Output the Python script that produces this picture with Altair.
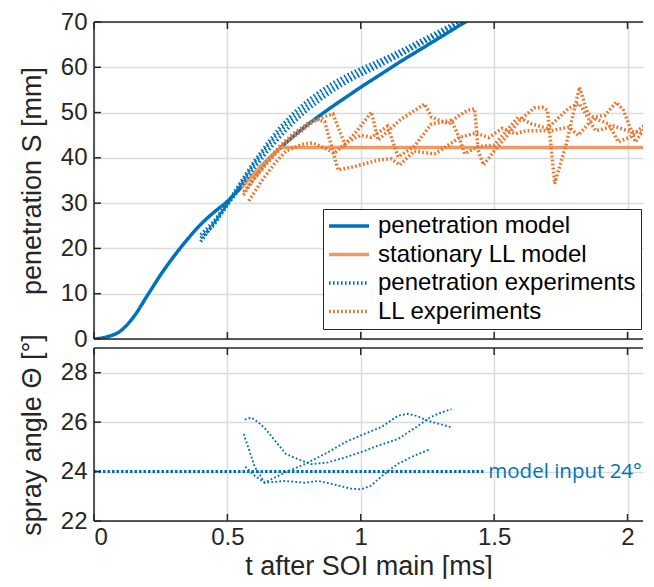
import altair as alt
import pandas as pd

# ---------------- data ----------------
series_names = ["penetration model", "stationary LL model",
                "penetration experiments", "LL experiments"]

model_t = [0, 0.05, 0.1, 0.15, 0.2, 0.25, 0.3, 0.35, 0.4, 0.45, 0.5, 0.55, 0.6,
           0.65, 0.7, 0.75, 0.8, 0.85, 0.9, 0.95, 1.0, 1.05, 1.1, 1.15, 1.2,
           1.25, 1.3, 1.35, 1.4]
model_S = [0, 0.5, 1.8, 5.0, 9.6, 14.2, 18.3, 22.0, 25.3, 28.0, 30.4, 33.4, 36.5,
           39.5, 42.3, 44.9, 47.3, 49.5, 51.6, 53.6, 55.6, 57.5, 59.4, 61.3, 63.1,
           64.9, 66.7, 68.5, 70.3]

llmodel_t = [0.55, 0.6, 0.65, 0.7, 2.1]
llmodel_S = [33.4, 36.5, 39.5, 42.3, 42.3]

pen_exp_t = [0.40, 0.45, 0.50, 0.55, 0.60, 0.65, 0.70, 0.75, 0.80, 0.85, 0.90,
             0.95, 1.00, 1.05, 1.10, 1.15, 1.20, 1.25, 1.30, 1.35, 1.40]
pen_exp_1 = [21.5, 25.6, 29.8, 34.2, 38.6, 42.5, 46.0, 49.0, 51.6, 53.8, 55.7,
             57.4, 58.9, 60.3, 61.7, 63.1, 64.6, 66.1, 67.7, 69.3, 71.0]
pen_exp_2 = [23.0, 26.0, 30.0, 34.6, 39.2, 43.2, 46.9, 50.0, 52.6, 54.8, 56.7,
             58.3, 59.7, 61.0, 62.3, 63.7, 65.2, 66.7, 68.2, 69.7, 71.2]
pen_exp_3 = [22.3, 25.2, 29.6, 33.6, 37.7, 41.4, 44.8, 47.9, 50.6, 52.9, 55.0,
             56.8, 58.3, 59.7, 61.2, 62.7, 64.3, 65.9, 67.5, 69.1, 70.8]

ll_a_t = [0.56, 0.60, 0.65, 0.70, 0.75, 0.80, 0.86, 0.896, 0.94, 0.98, 1.04, 1.065,
          1.12, 1.15, 1.24, 1.265, 1.33, 1.36, 1.40, 1.427, 1.44, 1.46, 1.50, 1.55,
          1.60, 1.65, 1.68, 1.70, 1.727, 1.77, 1.82, 1.85, 1.88, 1.93, 1.965, 2.01,
          2.06, 2.1]
ll_a_S = [31.8, 35.4, 39.3, 42.8, 45.5, 47.5, 49.0, 49.7, 43.0, 45.5, 50.1, 43.9,
          46.9, 48.5, 51.9, 49.0, 47.5, 49.0, 50.5, 50.8, 41.7, 38.4, 41.5, 45.0,
          48.5, 51.0, 51.2, 50.5, 34.3, 43.0, 55.6, 50.0, 48.6, 47.5, 43.5, 44.6,
          47.0, 48.5]
ll_b_t = [0.56, 0.62, 0.67, 0.72, 0.78, 0.83, 0.865, 0.915, 0.97, 1.015, 1.065,
          1.115, 1.146, 1.2, 1.277, 1.32, 1.37, 1.43, 1.48, 1.53, 1.58, 1.62, 1.715,
          1.78, 1.815, 1.877, 1.915, 1.958, 1.985, 2.03, 2.09, 2.1]
ll_b_S = [32.5, 36.8, 40.2, 43.5, 46.0, 48.5, 48.0, 37.3, 38.0, 38.7, 39.5, 39.8,
          38.4, 41.5, 40.9, 42.5, 44.5, 45.5, 44.5, 46.5, 45.3, 46.0, 46.0, 46.8,
          45.0, 49.0, 49.4, 52.3, 50.5, 43.5, 49.0, 49.5]
ll_c_t = [0.58, 0.63, 0.68, 0.72, 0.78, 0.82, 0.87, 0.90, 0.95, 1.0, 1.04, 1.1,
          1.14, 1.2, 1.265, 1.34, 1.365, 1.39, 1.44, 1.5, 1.59, 1.64, 1.7, 1.78,
          1.82, 1.88, 1.95, 2.0, 2.05, 2.1]
ll_c_S = [30.5, 35.0, 39.0, 41.5, 43.0, 43.3, 42.0, 41.0, 43.5, 45.0, 44.5, 47.0,
          40.2, 42.5, 47.5, 48.3, 45.0, 40.9, 42.5, 42.8, 49.0, 47.5, 46.5, 51.0,
          52.0, 46.0, 47.0, 46.0, 45.5, 46.5]

sa_a_t = [0.565, 0.59, 0.615, 0.643, 0.69, 0.72, 0.777, 0.815, 0.877, 0.94, 1.0,
          1.065, 1.14, 1.215, 1.26, 1.30, 1.34]
sa_a_v = [26.1, 26.18, 26.0, 25.72, 25.1, 24.71, 24.45, 24.3, 24.37, 24.57, 24.78,
          25.05, 25.32, 25.85, 26.2, 26.38, 26.53]
sa_b_t = [0.561, 0.58, 0.603, 0.64, 0.715, 0.79, 0.877, 0.94, 1.0, 1.077, 1.14,
          1.177, 1.21, 1.25, 1.34]
sa_b_v = [25.52, 24.92, 24.18, 23.55, 23.96, 24.3, 24.78, 25.18, 25.46, 25.8, 26.26,
          26.34, 26.25, 26.06, 25.79]
sa_c_t = [0.567, 0.60, 0.64, 0.715, 0.79, 0.84, 0.90, 0.962, 1.0, 1.037, 1.087,
          1.137, 1.2, 1.26]
sa_c_v = [24.2, 23.85, 23.55, 23.62, 23.55, 23.62, 23.48, 23.31, 23.28, 23.42,
          23.89, 24.3, 24.64, 24.9]

input_t = [0, 1.46]
input_v = [24, 24]
input_label_t = [1.478]
input_label_v = [24]
input_label = ["model input 24°"]

x_ticks = [0, 0.5, 1, 1.5, 2]
y_ticks_top = [0, 10, 20, 30, 40, 50, 60, 70]
y_ticks_bot = [22, 24, 26, 28]

# ---------------- styling ----------------
BLUE = "#0072BD"
OR_SOLID = "#EE9A66"
OR_DOT = "#E8772E"
AX = "#262626"
FONT = "Liberation Sans"
W, H1, H2 = 549, 317, 173
XDOM = [0, 2.058]


def frame(series, runs):
    rows = []
    for run, (ts, vs) in runs.items():
        for t, v in zip(ts, vs):
            rows.append({"t": t, "v": v, "series": series, "run": run})
    return pd.DataFrame(rows)


df_model = frame(series_names[0], {"m": (model_t, model_S)})
df_llm = frame(series_names[1], {"l": (llmodel_t, llmodel_S)})
df_pen = frame(series_names[2], {"p1": (pen_exp_t, pen_exp_1),
                                 "p2": (pen_exp_t, pen_exp_2),
                                 "p3": (pen_exp_t, pen_exp_3)})
df_ll = frame(series_names[3], {"a": (ll_a_t, ll_a_S), "b": (ll_b_t, ll_b_S),
                                "c": (ll_c_t, ll_c_S)})

xs = alt.Scale(domain=XDOM, nice=False, zero=False)
ys_top = alt.Scale(domain=[0, 70], nice=False)
ys_bot = alt.Scale(domain=[22, 29], nice=False, zero=False)

legend = alt.Legend(orient="none", legendX=229, legendY=187, title=None,
                    symbolType="M-2,0L2,0", symbolSize=400, symbolOffset=9,
                    labelFont=FONT, labelFontSize=24, labelColor="#000000",
                    labelOffset=17, rowPadding=4.5, padding=5,
                    strokeColor=AX, fillColor="white", labelLimit=400)

color_enc = alt.Color("series:N", legend=legend,
                      scale=alt.Scale(domain=series_names,
                                      range=[BLUE, OR_SOLID, BLUE, OR_DOT]))
dash_enc = alt.StrokeDash("series:N", legend=legend,
                          scale=alt.Scale(domain=series_names,
                                          range=[[1, 0], [1, 0], [1.6, 2.4], [1.8, 2.2]]))
width_enc = alt.StrokeWidth("series:N", legend=legend,
                            scale=alt.Scale(domain=series_names,
                                            range=[3.5, 3.5, 1.7, 1.9]))

x_top = alt.X("t:Q", scale=xs,
              axis=alt.Axis(values=x_ticks, labels=False, ticks=False,
                            domain=False, title=None, grid=True))
y_top = alt.Y("v:Q", scale=ys_top,
              axis=alt.Axis(values=y_ticks_top, ticks=False, domain=False,
                            title="penetration S [mm]", grid=True,
                            labelPadding=7, titlePadding=14))


def top_line(df, interp="linear"):
    return alt.Chart(df).mark_line(clip=True, interpolate=interp).encode(
        x=x_top, y=y_top, color=color_enc, strokeDash=dash_enc,
        strokeWidth=width_enc, detail="run:N", order="t:Q")


df_xt = pd.DataFrame({"t": x_ticks})
df_yt_top = pd.DataFrame({"v": y_ticks_top})
df_yt_bot = pd.DataFrame({"v": y_ticks_bot})
df_one = pd.DataFrame({"k": [0]})


def deco_layers(df_y, h):
    tk = dict(color=AX, strokeWidth=1.5)
    return [
        # axis frame (left, top, bottom)
        alt.Chart(df_one).mark_rule(**tk).encode(
            x=alt.value(0), y=alt.value(0), y2=alt.value(h)),
        alt.Chart(df_one).mark_rule(**tk).encode(
            x=alt.value(0), x2=alt.value(W), y=alt.value(0)),
        alt.Chart(df_one).mark_rule(**tk).encode(
            x=alt.value(0), x2=alt.value(W), y=alt.value(h)),
        # inward ticks
        alt.Chart(df_xt).mark_rule(**tk).encode(
            x=alt.X("t:Q", scale=xs), y=alt.value(0), y2=alt.value(7)),
        alt.Chart(df_xt).mark_rule(**tk).encode(
            x=alt.X("t:Q", scale=xs), y=alt.value(h), y2=alt.value(h - 7)),
        alt.Chart(df_y).mark_rule(**tk).encode(
            y=alt.Y("v:Q"), x=alt.value(0), x2=alt.value(7)),
    ]


top = alt.layer(
    top_line(df_model, "monotone"), top_line(df_llm), top_line(df_pen),
    top_line(df_ll), *deco_layers(df_yt_top, H1)
).properties(width=W, height=H1)

# bottom panel
df_sa = frame("spray", {"a": (sa_a_t, sa_a_v), "b": (sa_b_t, sa_b_v),
                        "c": (sa_c_t, sa_c_v)})
df_in = frame("input", {"i": (input_t, input_v)})
df_lab = pd.DataFrame({"t": input_label_t, "v": input_label_v, "txt": input_label})

x_bot = alt.X("t:Q", scale=xs,
              axis=alt.Axis(values=x_ticks, format="~g", ticks=False,
                            domain=False, title="t after SOI main [ms]",
                            grid=True, labelPadding=4, titlePadding=4))
y_bot = alt.Y("v:Q", scale=ys_bot,
              axis=alt.Axis(values=y_ticks_bot, ticks=False, domain=False,
                            title="spray angle Θ [°]", grid=True,
                            labelPadding=7, titlePadding=14))

sa_lines = alt.Chart(df_sa).mark_line(color=BLUE, strokeWidth=1.9,
                                      strokeDash=[1.8, 2.2], clip=True).encode(
    x=x_bot, y=y_bot, detail="run:N", order="t:Q")
in_line = alt.Chart(df_in).mark_line(color=BLUE, strokeWidth=3,
                                     strokeDash=[2.5, 2]).encode(
    x=x_bot, y=y_bot)
in_text = alt.Chart(df_lab).mark_text(align="left", baseline="middle",
                                      font="Open Sans", fontSize=20.5,
                                      color=BLUE).encode(
    x=x_bot, y=y_bot, text="txt:N")

bottom = alt.layer(
    in_line, sa_lines, in_text, *deco_layers(df_yt_bot, H2)
).properties(width=W, height=H2)

chart = alt.vconcat(top, bottom, spacing=9, bounds="flush").properties(
    padding={"left": 10, "top": 2, "right": 0, "bottom": 0}
).configure_view(
    strokeWidth=0
).configure_axis(
    labelFont=FONT, labelFontSize=24, labelColor=AX,
    titleFont=FONT, titleFontSize=27, titleColor=AX, titleFontWeight="normal",
    gridColor="#DCDCDC", gridWidth=1.5
)

chart.save("out.html", embed_options={"renderer": "svg", "actions": False})
